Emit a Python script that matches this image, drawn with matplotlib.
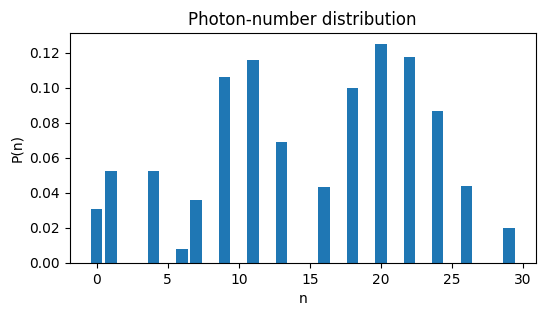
import matplotlib
matplotlib.use("Agg")
import matplotlib.pyplot as plt

n_values = [0, 1, 4, 6, 7, 9, 11, 13, 16, 18, 20, 22, 24, 26, 29]
probabilities = [0.0307, 0.0523, 0.0523, 0.0080, 0.0358, 0.1063, 0.1159, 0.0688,
                 0.0432, 0.1000, 0.1250, 0.1176, 0.0869, 0.0437, 0.0199]

fig, ax = plt.subplots(figsize=(5.45, 3.16), dpi=100)
ax.bar(n_values, probabilities, color="#1f77b4")
ax.set_title("Photon-number distribution")
ax.set_xlabel("n")
ax.set_ylabel("P(n)")
fig.subplots_adjust(left=0.128, right=0.983, top=0.896, bottom=0.168)
fig.savefig("out.png", dpi=100)
